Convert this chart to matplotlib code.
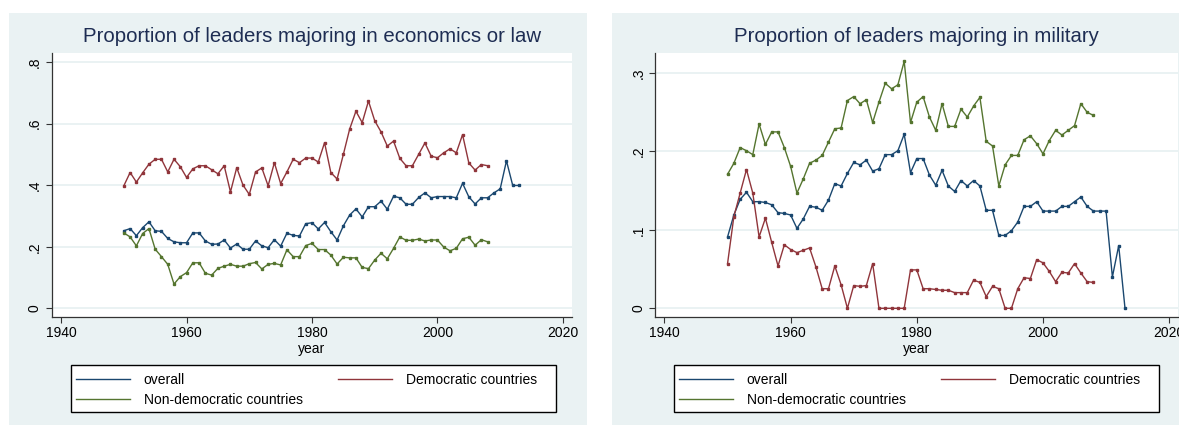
import matplotlib
matplotlib.use("Agg")
import matplotlib.pyplot as plt
from matplotlib.patches import Rectangle

plt.rcParams['font.family'] = ['Liberation Sans', 'DejaVu Sans']

# ---------------- data ----------------
years_long = list(range(1950, 2014))   # overall series 1950-2013
years_short = list(range(1950, 2009))  # democratic / non-democratic 1950-2008

econ_overall = [0.252, 0.259, 0.236, 0.262, 0.281, 0.252, 0.250, 0.227, 0.216, 0.213,
                0.213, 0.245, 0.245, 0.219, 0.208, 0.209, 0.222, 0.196, 0.209, 0.192,
                0.192, 0.219, 0.203, 0.197, 0.223, 0.202, 0.244, 0.237, 0.235, 0.275,
                0.278, 0.258, 0.279, 0.249, 0.222, 0.268, 0.303, 0.323, 0.297, 0.330,
                0.330, 0.348, 0.322, 0.364, 0.359, 0.338, 0.338, 0.360, 0.375, 0.359,
                0.363, 0.363, 0.363, 0.359, 0.406, 0.362, 0.339, 0.359, 0.359, 0.375,
                0.388, 0.479, 0.399, 0.399]
econ_dem = [0.398, 0.441, 0.410, 0.440, 0.468, 0.484, 0.484, 0.443, 0.484, 0.460,
            0.425, 0.453, 0.463, 0.463, 0.450, 0.437, 0.463, 0.378, 0.457, 0.400,
            0.370, 0.443, 0.456, 0.398, 0.473, 0.405, 0.443, 0.484, 0.473, 0.488,
            0.488, 0.475, 0.538, 0.441, 0.420, 0.500, 0.582, 0.640, 0.603, 0.673,
            0.609, 0.573, 0.527, 0.543, 0.487, 0.463, 0.463, 0.500, 0.537, 0.494,
            0.489, 0.505, 0.518, 0.505, 0.564, 0.472, 0.449, 0.467, 0.463]
econ_nondem = [0.245, 0.232, 0.203, 0.243, 0.259, 0.192, 0.168, 0.143, 0.079, 0.103,
               0.116, 0.148, 0.148, 0.114, 0.108, 0.130, 0.137, 0.143, 0.137, 0.137,
               0.145, 0.149, 0.128, 0.143, 0.146, 0.141, 0.190, 0.168, 0.168, 0.204,
               0.211, 0.191, 0.191, 0.173, 0.144, 0.166, 0.164, 0.164, 0.133, 0.129,
               0.157, 0.179, 0.161, 0.195, 0.232, 0.221, 0.221, 0.225, 0.219, 0.222,
               0.222, 0.199, 0.187, 0.195, 0.226, 0.231, 0.205, 0.223, 0.216]

mil_overall = [0.091, 0.119, 0.139, 0.148, 0.136, 0.136, 0.135, 0.132, 0.122, 0.121,
               0.119, 0.102, 0.114, 0.130, 0.129, 0.125, 0.138, 0.159, 0.156, 0.172,
               0.186, 0.183, 0.189, 0.175, 0.178, 0.196, 0.196, 0.201, 0.222, 0.173,
               0.191, 0.191, 0.170, 0.157, 0.176, 0.156, 0.149, 0.163, 0.156, 0.163,
               0.156, 0.125, 0.125, 0.093, 0.093, 0.099, 0.110, 0.130, 0.130, 0.136,
               0.124, 0.124, 0.124, 0.130, 0.130, 0.136, 0.142, 0.130, 0.124, 0.124,
               0.124, 0.040, 0.080, 0.000]
mil_dem = [0.057, 0.117, 0.147, 0.177, 0.147, 0.091, 0.115, 0.084, 0.054, 0.081,
           0.075, 0.071, 0.074, 0.077, 0.053, 0.025, 0.025, 0.054, 0.030, 0.000,
           0.029, 0.028, 0.029, 0.057, 0.000, 0.000, 0.000, 0.000, 0.000, 0.049,
           0.049, 0.025, 0.025, 0.024, 0.023, 0.023, 0.020, 0.020, 0.020, 0.036,
           0.033, 0.015, 0.028, 0.025, 0.000, 0.000, 0.025, 0.039, 0.038, 0.062,
           0.058, 0.047, 0.034, 0.046, 0.045, 0.057, 0.045, 0.034, 0.033]
mil_nondem = [0.171, 0.185, 0.205, 0.201, 0.196, 0.235, 0.209, 0.225, 0.225, 0.205,
              0.181, 0.147, 0.165, 0.185, 0.189, 0.195, 0.212, 0.229, 0.230, 0.265,
              0.270, 0.261, 0.266, 0.237, 0.263, 0.287, 0.280, 0.285, 0.315, 0.237,
              0.263, 0.270, 0.244, 0.227, 0.261, 0.232, 0.232, 0.254, 0.244, 0.258,
              0.269, 0.213, 0.207, 0.156, 0.183, 0.195, 0.195, 0.215, 0.220, 0.210,
              0.197, 0.214, 0.227, 0.221, 0.227, 0.233, 0.261, 0.250, 0.246]

titles = ["Proportion of leaders majoring in economics or law",
          "Proportion of leaders majoring in military"]
series_labels = ["overall", "Democratic countries", "Non-democratic countries"]
x_ticks = [1940, 1960, 1980, 2000, 2020]
y_ticks_left = [0, 0.2, 0.4, 0.6, 0.8]
y_ticklabels_left = ["0", ".2", ".4", ".6", ".8"]
y_ticks_right = [0, 0.1, 0.2, 0.3]
y_ticklabels_right = ["0", ".1", ".2", ".3"]

# ---------------- style ----------------
W, H = 1179, 425
C_NAVY = "#1a476f"
C_MAROON = "#90353b"
C_GREEN = "#55752f"
C_BG = "#eaf2f3"
C_TITLE = "#1e2d53"

fig = plt.figure(figsize=(W / 100, H / 100), dpi=100)
fig.patch.set_facecolor("white")


def fx(px):
    return px / W


def fy(py):
    return 1 - py / H


# panel backgrounds (drawn behind everything)
for x0, x1 in [(9, 587), (612, 1180)]:
    bg_ax = fig.add_axes([fx(x0), 0, fx(x1 - x0), fy(13)], zorder=-10)
    bg_ax.set_facecolor(C_BG)
    bg_ax.set_xticks([])
    bg_ax.set_yticks([])
    for s in bg_ax.spines.values():
        s.set_visible(False)

panels = [
    dict(ax_px=(51.7, 52.7, 571.7, 316.7), ylim=(-0.027, 0.830), yt=y_ticks_left,
         ytl=y_ticklabels_left, data=(econ_overall, econ_dem, econ_nondem),
         legend_px=(71, 365, 556, 412), title=titles[0]),
    dict(ax_px=(655, 52.7, 1178, 316.7), ylim=(-0.0107, 0.326), yt=y_ticks_right,
         ytl=y_ticklabels_right, data=(mil_overall, mil_dem, mil_nondem),
         legend_px=(674, 365, 1159, 412), title=titles[1]),
]

for p in panels:
    x0, y0, x1, y1 = p["ax_px"]
    ax = fig.add_axes([fx(x0), fy(y1), fx(x1 - x0), (y1 - y0) / H], zorder=1)
    ax.set_facecolor("white")
    ov, dem, nd = p["data"]
    mk = dict(marker="s", markersize=1.5, linewidth=1.0)
    h1, = ax.plot(years_long, ov, color=C_NAVY, label=series_labels[0], **mk)
    h2, = ax.plot(years_short, dem, color=C_MAROON, label=series_labels[1], **mk)
    h3, = ax.plot(years_short, nd, color=C_GREEN, label=series_labels[2], **mk)
    ax.set_xlim(1938.5, 2021.4)
    ax.set_ylim(*p["ylim"])
    ax.set_xticks(x_ticks)
    ax.set_xticklabels([str(t) for t in x_ticks])
    ax.set_yticks(p["yt"])
    ax.set_yticklabels(p["ytl"], rotation=90, va="center")
    ax.tick_params(axis="both", labelsize=10, length=4, width=0.8, color="#333333",
                   labelcolor="black", pad=3)
    ax.grid(axis="y", color=C_BG, linewidth=1.4)
    ax.set_axisbelow(True)
    for s in ["top", "right"]:
        ax.spines[s].set_visible(False)
    for s in ["left", "bottom"]:
        ax.spines[s].set_color("#333333")
        ax.spines[s].set_linewidth(0.9)
    ax.set_xlabel("year", fontsize=10, labelpad=1)
    # title centered over plot region
    fig.text(fx((x0 + x1) / 2), fy(36.7), p["title"], ha="center", va="center",
             fontsize=14.7, color=C_TITLE, zorder=2)
    # legend box (frame drawn separately at the reference's box size)
    lx0, ly0, lx1, ly1 = p["legend_px"]
    fig.add_artist(Rectangle((fx(lx0), fy(ly1)), fx(lx1 - lx0), (ly1 - ly0) / H,
                             transform=fig.transFigure, facecolor="white",
                             edgecolor="black", linewidth=1.0, zorder=0.5))
    leg = ax.legend(handles=[h1, h3, h2], labels=[series_labels[0], series_labels[2], series_labels[1]],
                    ncol=2, loc="center left",
                    bbox_to_anchor=(fx(lx0 - 1.5), fy((ly0 + ly1) / 2 + 1.5)),
                    bbox_transform=fig.transFigure, borderaxespad=0, fontsize=10,
                    frameon=False,
                    handlelength=3.9, handletextpad=1.0, columnspacing=2.55,
                    labelspacing=0.45, borderpad=0.45)
    for lh in leg.get_lines():
        lh.set_marker("")
        lh.set_linewidth(1.0)

fig.savefig("out.png", dpi=100, facecolor="white")
